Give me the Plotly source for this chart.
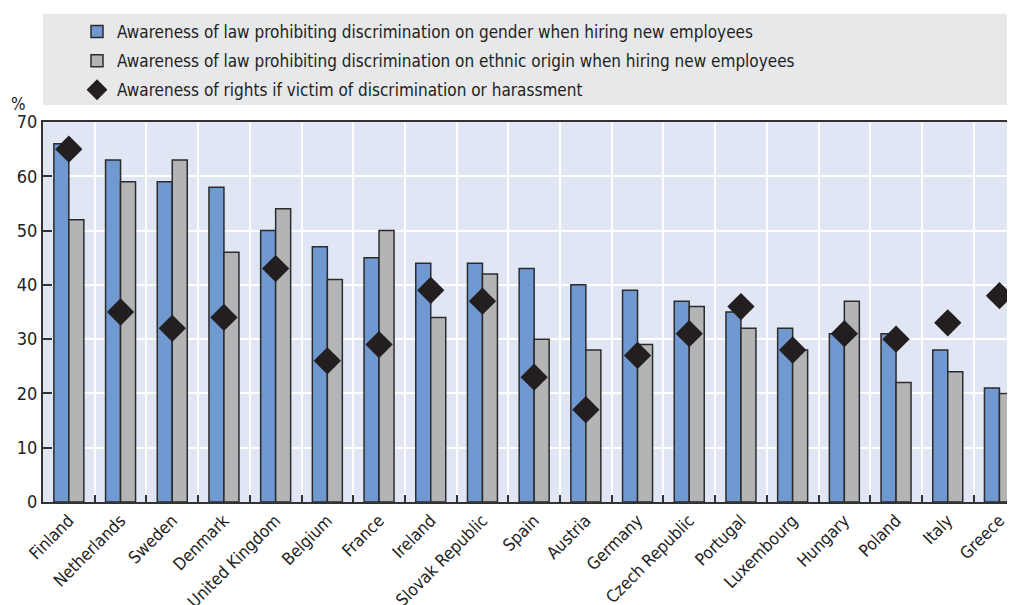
import plotly.graph_objects as go

countries = ["Finland", "Netherlands", "Sweden", "Denmark", "United Kingdom", "Belgium", "France",
             "Ireland", "Slovak Republic", "Spain", "Austria", "Germany", "Czech Republic", "Portugal",
             "Luxembourg", "Hungary", "Poland", "Italy", "Greece"]
gender_law = [66, 63, 59, 58, 50, 47, 45, 44, 44, 43, 40, 39, 37, 35, 32, 31, 31, 28, 21]
ethnic_law = [52, 59, 63, 46, 54, 41, 50, 34, 42, 30, 28, 29, 36, 32, 28, 37, 22, 24, 20]
rights_victim = [65, 35, 32, 34, 43, 26, 29, 39, 37, 23, 17, 27, 31, 36, 28, 31, 30, 33, 38]

names = [
    "Awareness of law prohibiting discrimination on gender when hiring new employees",
    "Awareness of law prohibiting discrimination on ethnic origin when hiring new employees",
    "Awareness of rights if victim of discrimination or harassment",
]

FONT = "DejaVu Sans Condensed, Liberation Sans, sans-serif"
# the page puts the figure 8px in from the top-left corner
OFF = 8
W, H = 1015 - OFF, 605 - OFF
ML, MR, MT, MB = 43 - OFF, 0, 122 - OFF, 103
PH = H - MT - MB
# the original chart runs a little past the right edge: Greece's last boundary is cut off
CAT_PX = 51.7
x_end = -0.5 + (W - ML - MR) / CAT_PX

fig = go.Figure()
fig.add_trace(go.Bar(x=countries, y=gender_law, name=names[0], legendgroup="a",
                     marker=dict(color="#7099d2", line=dict(color="#2b2b2b", width=1.5))))
fig.add_trace(go.Bar(x=countries, y=ethnic_law, name=names[1], legendgroup="b",
                     marker=dict(color="#b3b4b6", line=dict(color="#2b2b2b", width=1.5))))
fig.add_trace(go.Scatter(x=countries, y=rights_victim, name=names[2], mode="markers", legendgroup="c",
                         cliponaxis=False,
                         marker=dict(symbol="diamond", size=21, color="#231f20")))

# grey band behind the legend
fig.add_shape(type="rect", xref="paper", yref="paper", x0=0, x1=1.02,
              y0=(H - MB - (105 - OFF)) / PH, y1=(H - MB - (14 - OFF)) / PH,
              fillcolor="#e7e8e9", line=dict(width=0), layer="below")

fig.add_annotation(text="%", xref="paper", yref="paper", x=(18 - 43) / (W - ML), y=(H - MB - (104 - OFF)) / PH,
                   xanchor="center", yanchor="middle", showarrow=False,
                   font=dict(size=17, color="#222", family=FONT))

fig.update_layout(
    width=W, height=H,
    margin=dict(l=ML, r=MR, t=MT, b=MB, autoexpand=False),
    paper_bgcolor="white",
    plot_bgcolor="#e0e6f4",
    font=dict(family=FONT, size=17, color="#222"),
    barmode="group", bargap=0.42, bargroupgap=0,
    showlegend=True,
    legend=dict(x=(77 - OFF) / W, y=1 - (14 - OFF) / H, xanchor="left", yanchor="top",
                xref="container", yref="container",
                bgcolor="rgba(0,0,0,0)", font=dict(size=17, family=FONT, color="#222"),
                traceorder="grouped", tracegroupgap=4, itemwidth=30),
    xaxis=dict(type="category", range=[-0.5, x_end], tickson="boundaries",
               showgrid=True, gridcolor="white", gridwidth=1.5,
               ticks="inside", ticklen=7, tickcolor="#333", tickwidth=1.5, tickangle=-45,
               showline=True, linecolor="#333", linewidth=2, mirror=True, automargin=False,
               tickfont=dict(size=17, family=FONT)),
    yaxis=dict(range=[0, 70], dtick=10, showgrid=True, gridcolor="white", gridwidth=1.5,
               ticks="inside", ticklen=9, tickcolor="#333", tickwidth=1.5, automargin=False,
               showline=True, linecolor="#333", linewidth=2, zeroline=False,
               tickfont=dict(size=18, family=FONT)),
)

fig.write_html("out.html")
